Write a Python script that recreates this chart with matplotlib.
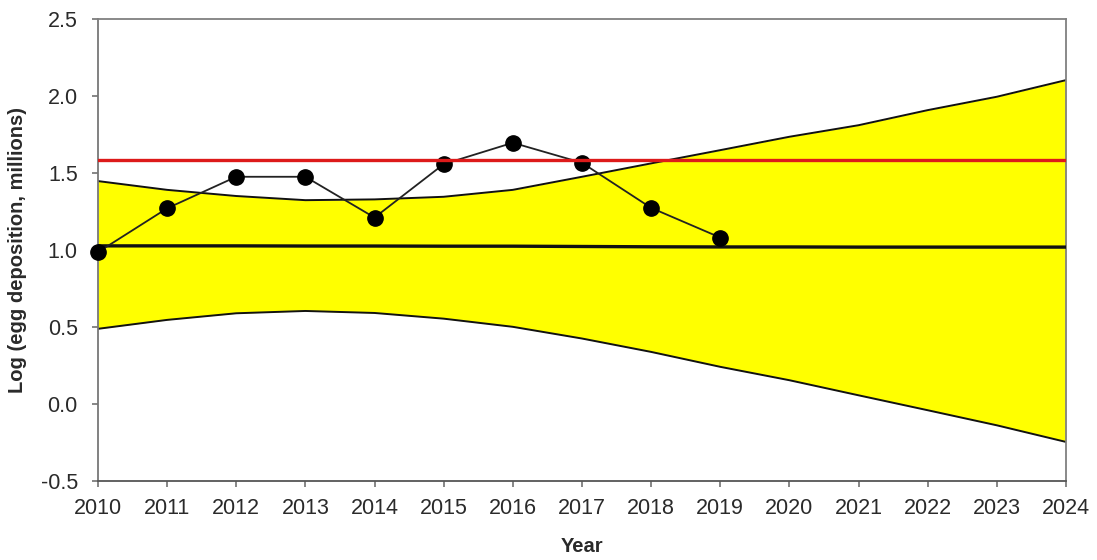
import matplotlib
matplotlib.use("Agg")
import matplotlib.pyplot as plt

years = [2010, 2011, 2012, 2013, 2014, 2015, 2016, 2017, 2018, 2019]
egg_log = [0.985, 1.27, 1.475, 1.475, 1.21, 1.557, 1.696, 1.566, 1.273, 1.08]

proj_years = list(range(2010, 2025))
upper = [1.447, 1.39, 1.35, 1.323, 1.328, 1.345, 1.39, 1.475, 1.562, 1.648,
         1.735, 1.81, 1.908, 1.995, 2.103]
lower = [0.487, 0.545, 0.588, 0.603, 0.59, 0.553, 0.5, 0.424, 0.337, 0.24,
         0.153, 0.055, -0.042, -0.14, -0.248]
mean_line = [1.026, 1.026, 1.026, 1.025, 1.025, 1.024, 1.024, 1.022, 1.02, 1.019,
             1.019, 1.018, 1.018, 1.018, 1.018]
target = 1.583

plt.rcParams['font.family'] = ['Liberation Sans', 'DejaVu Sans']

fig = plt.figure(figsize=(10.97, 5.60), dpi=100)
ax = fig.add_axes([0.0893, 0.1416, 0.9717 - 0.0893, 0.966 - 0.1416])

ax.fill_between(proj_years, lower, upper, color='#ffff00', zorder=1, linewidth=0)
ax.plot(proj_years, upper, color='#111111', lw=1.4, zorder=2)
ax.plot(proj_years, lower, color='#111111', lw=1.4, zorder=2)
ax.plot(proj_years, mean_line, color='#111111', lw=2.4, zorder=3)
ax.plot(years, egg_log, color='#222222', lw=1.3, marker='o', markersize=11,
        markerfacecolor='black', markeredgecolor='black', zorder=4, clip_on=False)
ax.axhline(target, color='#dd1a1a', lw=2.4, zorder=5)

ax.set_xlim(2010, 2024)
ax.set_ylim(-0.5, 2.5)
ax.set_xticks(proj_years)
ax.set_yticks([-0.5, 0.0, 0.5, 1.0, 1.5, 2.0, 2.5])
ax.set_yticklabels(['-0.5', '0.0', '0.5', '1.0', '1.5', '2.0', '2.5'])

for s in ax.spines.values():
    s.set_color('#808080')
    s.set_linewidth(1.3)
ax.spines['bottom'].set_color('#555555')
ax.spines['left'].set_color('#777777')

ax.tick_params(axis='both', direction='out', length=4.5, width=1.1, color='#666666',
               labelsize=15.5, labelcolor='#2a2a2a')
ax.tick_params(axis='x', pad=8)
ax.tick_params(axis='y', pad=10)

ax.set_xlabel('Year', fontsize=14.5, fontweight='bold', color='#2a2a2a', labelpad=13)
ax.set_ylabel('Log (egg deposition, millions)', fontsize=14.5, fontweight='bold',
              color='#2a2a2a', labelpad=10)

fig.savefig('out.png', dpi=100)
